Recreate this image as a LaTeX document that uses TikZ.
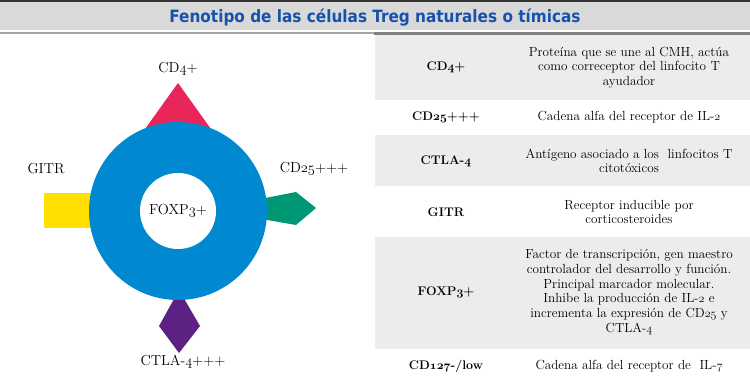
\documentclass[tikz,border=0pt]{standalone}
\usepackage{fontspec}
\newfontfamily\titlefont{DejaVu Sans Condensed}
\definecolor{hdrgray}{HTML}{D9D9D9}
\definecolor{rowgray}{HTML}{ECECEC}
\definecolor{titleblue}{HTML}{1652AC}
\definecolor{ringblue}{HTML}{0088D1}
\definecolor{cdpink}{HTML}{E8265A}
\definecolor{gitryellow}{HTML}{FFE000}
\definecolor{cdgreen}{HTML}{009874}
\definecolor{ctlapurple}{HTML}{5B2283}
\newcommand{\osn}[1]{\ensuremath{\mathnormal{#1}}}
\newcommand{\osnb}[1]{{\boldmath\ensuremath{\mathnormal{#1}}}}
\begin{document}
\begin{tikzpicture}[x=1pt,y=-1pt,
  lbl/.style={font=\fontsize{14.5}{17}\selectfont, inner sep=0pt},
  key/.style={font=\fontsize{12.5}{14.5}\selectfont\bfseries, inner sep=0pt, align=center},
  desc/.style={font=\fontsize{13.2}{14.7}\selectfont, inner sep=0pt, align=center}]
\useasboundingbox (0,0) rectangle (750,390);
% header
\fill[white] (0,0) rectangle (750,390);
\fill[black!80] (0,0) rectangle (750,2.5);
\fill[hdrgray] (0,2.5) rectangle (750,30.5);
\fill[black!35] (0,32) rectangle (374,34);
\fill[black!50] (374,32.5) rectangle (750,35);
\node[font=\titlefont\bfseries\fontsize{17}{20}\selectfont, text=titleblue, inner sep=0pt] (title) at (375,18) {Fenotipo de las células Treg naturales o tímicas};
% table rows
\fill[rowgray] (375,35) rectangle (750,100);
\fill[rowgray] (375,135) rectangle (750,186);
\fill[rowgray] (375,237) rectangle (750,349);
\node[key] (k1) at (446,67.5) {CD\osnb{4}+};
\node[desc] (d1) at (629,67.5) {Proteína que se une al CMH, actúa\\como correceptor del linfocito T\\ayudador};
\node[key] (k2) at (446,117.5) {CD\osnb{25}+++};
\node[desc] (d2) at (629,117.5) {Cadena alfa del receptor de IL-\osn{2}};
\node[key] (k3) at (446,161) {CTLA-\osnb{4}};
\node[desc] (d3) at (629,161) {Antígeno asociado a los \ linfocitos T\\citotóxicos};
\node[key] (k4) at (446,212) {GITR};
\node[desc] (d4) at (629,212) {Receptor inducible por\\corticosteroides};
\node[key] (k5) at (446,292) {FOXP\osnb{3}+};
\node[desc] (d5) at (629,292) {Factor de transcripción, gen maestro\\controlador del desarrollo y función.\\Principal marcador molecular.\\Inhibe la producción de IL-\osn{2} e\\incrementa la expresión de CD\osn{25} y\\CTLA-\osn{4}};
\node[key] (k6) at (446,366) {CD\osnb{127}-/low};
\node[desc] (d6) at (629,366) {Cadena alfa del receptor de \ IL-\osn{7}};
% markers
\fill[cdpink] (178,83) -- (226,150) -- (130,150) -- cycle;
\fill[gitryellow] (44,193) rectangle (110,228);
\fill[cdgreen] (250,201) -- (296,192) -- (316,208) -- (296,225) -- (250,217) -- cycle;
\fill[ctlapurple] (179,290) -- (200,326) -- (179,353) -- (159,326) -- cycle;
% ring
\node[circle, fill=ringblue, minimum size=178pt, inner sep=0pt] (ring) at (178,211) {};
\node[circle, fill=white, minimum size=76pt, inner sep=0pt, lbl] (core) at (178,211) {FOXP\osn{3}+};
\node[lbl] (cd4) at (178,69) {CD\osn{4}+};
\node[lbl] (gitr) at (46,169) {GITR};
\node[lbl] (cd25) at (314,169) {CD\osn{25}+++};
\node[lbl] (ctla) at (183,362) {CTLA-\osn{4}+++};
\end{tikzpicture}
\end{document}
